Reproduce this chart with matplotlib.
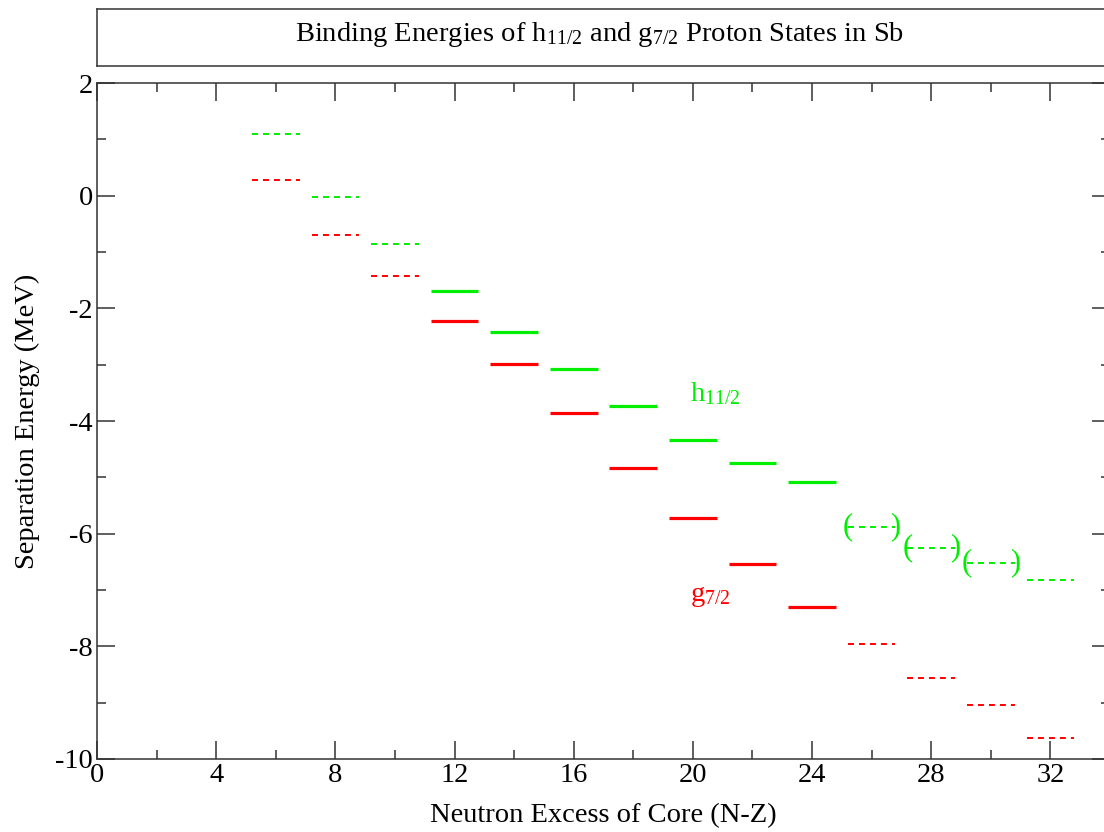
import matplotlib
matplotlib.use("Agg")
import matplotlib.pyplot as plt
from matplotlib.ticker import MultipleLocator

plt.rcParams['font.family'] = ['Liberation Serif', 'DejaVu Serif']
plt.rcParams['mathtext.fontset'] = 'custom'
plt.rcParams['mathtext.rm'] = 'Liberation Serif'
plt.rcParams['mathtext.it'] = 'Liberation Serif'
plt.rcParams['axes.unicode_minus'] = False

# Data
n_excess = [6, 8, 10, 12, 14, 16, 18, 20, 22, 24, 26, 28, 30, 32]
h11_energy = [1.10, -0.02, -0.86, -1.69, -2.42, -3.08, -3.73, -4.34, -4.75, -5.08, -5.88, -6.25, -6.52, -6.82]
g7_energy = [0.27, -0.69, -1.43, -2.23, -2.99, -3.86, -4.83, -5.72, -6.54, -7.30, -7.96, -8.57, -9.05, -9.62]
measured = [False, False, False, True, True, True, True, True, True, True, False, False, False, False]
h11_bracketed = [False] * 10 + [True, True, True, False]

half_w = 0.8
GREEN = '#00ee00'
RED = '#ff0000'
FS = 20.5

fig = plt.figure(figsize=(11.04, 8.32), dpi=100)
ax = fig.add_axes([97/1104, 73/832, (1110-97)/1104, (759-83)/832])

def draw_levels(xs, ys, color):
    for x, y, m in zip(xs, ys, measured):
        if m:
            ax.plot([x - half_w, x + half_w], [y, y], color=color, lw=2.3, solid_capstyle='butt')
        else:
            lw = 1.4
            ax.plot([x - half_w, x + half_w], [y, y], color=color, lw=lw,
                    linestyle=(0, (4.3 / lw, 3.6 / lw)), dash_capstyle='butt')

draw_levels(n_excess, h11_energy, GREEN)
draw_levels(n_excess, g7_energy, RED)

for x, y, b in zip(n_excess, h11_energy, h11_bracketed):
    if b:
        ax.text(x - half_w, y, '(', color=GREEN, fontsize=22, ha='center', va='center')
        ax.text(x + half_w, y, ')', color=GREEN, fontsize=22, ha='center', va='center')

ax.text(19.9, -3.65, r'h$_{11/2}$', color=GREEN, fontsize=FS, ha='left', va='baseline')
ax.text(19.9, -7.2, r'g$_{7/2}$', color=RED, fontsize=FS, ha='left', va='baseline')

ax.set_xlim(0, 34)
ax.set_ylim(-10, 2)
ax.xaxis.set_major_locator(MultipleLocator(4))
ax.xaxis.set_minor_locator(MultipleLocator(2))
ax.yaxis.set_major_locator(MultipleLocator(2))
ax.yaxis.set_minor_locator(MultipleLocator(1))
ax.tick_params(which='both', direction='in', top=True, right=True, labelsize=FS, colors='black')
ax.tick_params(which='major', length=13, width=1.1, pad=3)
ax.tick_params(which='minor', length=6.5, width=1.1)
for s in ax.spines.values():
    s.set_linewidth(1.1)
    s.set_color('#333333')
ax.tick_params(which='both', color='#333333')

ax.set_xlabel('Neutron Excess of Core (N-Z)', fontsize=FS, labelpad=11)
ax.set_ylabel('Separation Energy (MeV)', fontsize=FS, labelpad=11)

# Title box
tax = fig.add_axes([97/1104, (832-66)/832, (1110-97)/1104, (66-9)/832])
tax.set_xticks([])
tax.set_yticks([])
for s in tax.spines.values():
    s.set_linewidth(1.1)
    s.set_color('#333333')
tax.text((600-97)/(1110-97), 0.55,
         r'Binding Energies of h$_{11/2}$ and g$_{7/2}$ Proton States in Sb',
         fontsize=FS, ha='center', va='center', transform=tax.transAxes)

fig.savefig('out.png', dpi=100)
